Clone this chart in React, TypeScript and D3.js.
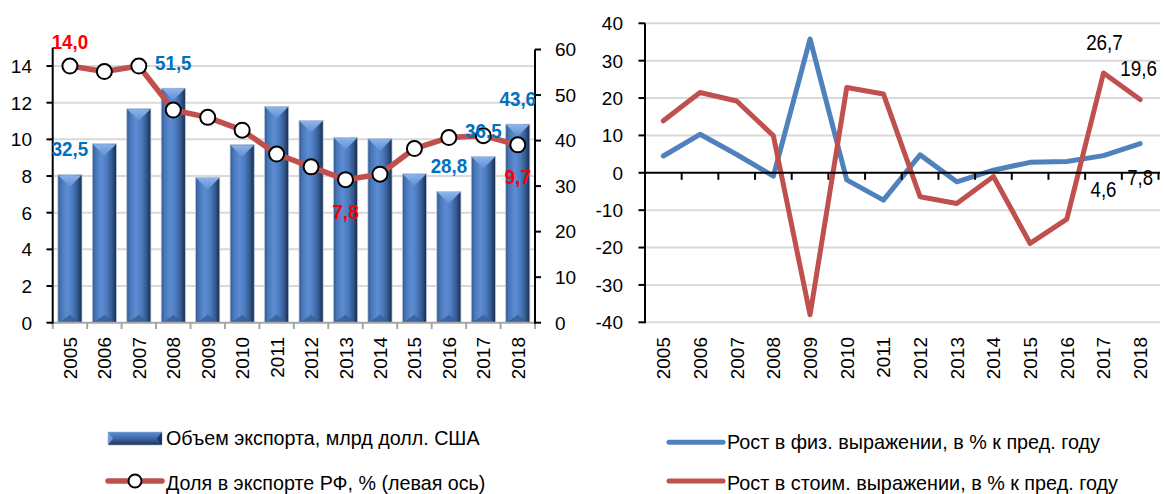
import React from 'react';
import * as d3 from 'd3';

const years = ['2005','2006','2007','2008','2009','2010','2011','2012','2013','2014','2015','2016','2017','2018'];
const exportVolume = [32.5, 39.3, 47.0, 51.5, 31.9, 39.1, 47.5, 44.4, 40.7, 40.4, 32.7, 28.8, 36.5, 43.6];
const shareRF = [14.0, 13.7, 14.0, 11.6, 11.2, 10.5, 9.2, 8.5, 7.8, 8.1, 9.5, 10.1, 10.2, 9.7];
const growthPhys = [4.5, 10.3, 4.9, -0.9, 35.8, -1.9, -7.3, 4.8, -2.4, 0.7, 2.8, 3.0, 4.6, 7.8];
const growthValue = [13.9, 21.5, 19.2, 9.9, -38.0, 22.8, 21.1, -6.4, -8.2, -1.0, -18.9, -12.4, 26.7, 19.6];
const leftTicks = [0, 2, 4, 6, 8, 10, 12, 14];
const rightTicks = [0, 10, 20, 30, 40, 50, 60];
const growthTicks = [-40, -30, -20, -10, 0, 10, 20, 30, 40];
const barLabelIdx = [0, 3, 11, 12, 13];
const shareLabels = [{ i: 0, pos: 'above' }, { i: 8, pos: 'below' }, { i: 13, pos: 'below' }];
const growthValueLabelIdx = [12, 13];
const growthPhysLabelIdx = [12, 13];
const legendLeft = ['Объем экспорта, млрд долл. США', 'Доля в экспорте РФ, % (левая ось)'];
const legendRight = ['Рост в физ. выражении, в % к пред. году', 'Рост в стоим. выражении, в % к пред. году'];

const FONT = '"Liberation Sans", Arial, sans-serif';
const RED = '#C0504D';
const BLUE = '#4F81BD';
const LABEL_BLUE = '#0070C0';
const LABEL_RED = '#FF0000';
const GRID = '#D9D9D9';

const fmt = (v: number) => v.toFixed(1).replace('.', ',');
const boldLen = (s: string) => (s.length >= 4 ? 36.5 : 26.5);
const narrowLen = (s: string) => (s.length >= 4 ? 36.7 : 25.8);

export default function App() {
  // Left chart
  const x1 = d3.scaleBand<string>().domain(years).range([52.7, 535]).paddingInner(0.3).paddingOuter(0.15);
  const yL = d3.scaleLinear().domain([0, 15]).range([322.7, 47.7]);
  const yR = d3.scaleLinear().domain([0, 60]).range([322.7, 49.5]);
  const step1 = (535 - 52.7) / years.length;
  const cx1 = (i: number) => (x1(years[i]) as number) + x1.bandwidth() / 2;

  const shareLine = d3.line<number>().x((_, i) => cx1(i)).y(d => yL(d));

  // Right chart
  const x2 = d3.scalePoint<string>().domain(years).range([645, 1158.5]).padding(0.5);
  const y2 = d3.scaleLinear().domain([-40, 40]).range([322.3, 23.3]);
  const step2 = x2.step();
  const physLine = d3.line<number>().x((_, i) => x2(years[i]) as number).y(d => y2(d));
  const valLine = d3.line<number>().x((_, i) => x2(years[i]) as number).y(d => y2(d));

  const bw = x1.bandwidth();

  return (
    <svg width={1164} height={494} style={{ position: 'absolute', left: 0, top: 0, background: '#fff' }} fontFamily={FONT}>
      <defs>
        <linearGradient id="barGrad" x1="0" x2="1" y1="0" y2="0">
          <stop offset="0" stopColor="#2F5489" />
          <stop offset="0.12" stopColor="#4674B6" />
          <stop offset="0.38" stopColor="#5C8DD3" />
          <stop offset="0.6" stopColor="#4C7CC0" />
          <stop offset="0.82" stopColor="#33598F" />
          <stop offset="1" stopColor="#17294A" />
        </linearGradient>
        <linearGradient id="bevelTop" x1="0" x2="0" y1="0" y2="1">
          <stop offset="0" stopColor="#8DB3EA" />
          <stop offset="1" stopColor="#5F90D6" />
        </linearGradient>
        <linearGradient id="legendBar" x1="0" x2="0" y1="0" y2="1">
          <stop offset="0" stopColor="#5C8DD3" />
          <stop offset="0.5" stopColor="#3E68A8" />
          <stop offset="1" stopColor="#1C3258" />
        </linearGradient>
      </defs>

      {/* LEFT CHART */}
      {leftTicks.filter(t => t > 0).map(t => (
        <line key={'gl' + t} x1={52.7} x2={535} y1={yL(t)} y2={yL(t)} stroke={GRID} strokeWidth={2} />
      ))}
      {exportVolume.map((v, i) => {
        const x0 = x1(years[i]) as number;
        const top = yR(v);
        const bot = yR(0);
        const bev = Math.min(12, (bot - top) / 2);
        return (
          <g key={'bar' + i}>
            <rect x={x0} y={top} width={bw} height={bot - top} fill="url(#barGrad)" stroke="#B8C7DC" strokeWidth={0.8} />
            <polygon points={`${x0 + 0.5},${top + 0.5} ${x0 + bw - 0.5},${top + 0.5} ${x0 + bw / 2},${top + bev}`} fill="url(#bevelTop)" />
            <polygon points={`${x0 + 1},${bot} ${x0 + bw - 1},${bot} ${x0 + bw / 2},${bot - 8}`} fill="#3A5F96" opacity={0.85} />
          </g>
        );
      })}
      {/* x axis left */}
      <line x1={52.7} x2={535} y1={322.7} y2={322.7} stroke="#A6A6A6" strokeWidth={2} />
      {d3.range(years.length + 1).map(k => (
        <line key={'xt1' + k} x1={52.7 + k * step1} x2={52.7 + k * step1} y1={322.7} y2={329} stroke="#A6A6A6" strokeWidth={2} />
      ))}
      {years.map((yr, i) => (
        <text key={'xl1' + yr} transform={`translate(${cx1(i) + 0.5},337) rotate(-90)`} textAnchor="end" dominantBaseline="central" fontSize={19} fill="#000">{yr}</text>
      ))}
      {/* left y axis */}
      <line x1={52.7} x2={52.7} y1={47.7} y2={323.7} stroke="#000" strokeWidth={2} />
      {leftTicks.map(t => (
        <g key={'yl' + t}>
          <line x1={46.5} x2={52.7} y1={yL(t)} y2={yL(t)} stroke="#000" strokeWidth={2} />
          <text x={32} y={yL(t)} dy="0.36em" textAnchor="end" fontSize={19}>{t}</text>
        </g>
      ))}
      {/* right y axis */}
      <line x1={535} x2={535} y1={49.5} y2={323.7} stroke="#000" strokeWidth={2} />
      {rightTicks.map(t => (
        <g key={'yr' + t}>
          <line x1={535} x2={541} y1={yR(t)} y2={yR(t)} stroke="#000" strokeWidth={2} />
          <text x={555} y={yR(t)} dy="0.36em" textAnchor="start" fontSize={19}>{t}</text>
        </g>
      ))}
      {/* share line */}
      <path d={shareLine(shareRF) as string} fill="none" stroke={RED} strokeWidth={5.5} strokeLinejoin="round" />
      {shareRF.map((v, i) => (
        <circle key={'m' + i} cx={cx1(i)} cy={yL(v)} r={7.5} fill="#fff" stroke="#000" strokeWidth={2} />
      ))}
      {barLabelIdx.map(i => {
        const s = fmt(exportVolume[i]);
        return (
          <text key={'bl' + i} x={cx1(i) - boldLen(s) / 2} y={yR(exportVolume[i]) - 18.5} fontSize={19.5} fontWeight="bold" fill={LABEL_BLUE} textLength={boldLen(s)} lengthAdjust="spacingAndGlyphs">{s}</text>
        );
      })}
      {shareLabels.map(({ i, pos }) => {
        const s = fmt(shareRF[i]);
        return (
          <text key={'sl' + i} x={cx1(i) - boldLen(s) / 2} y={yL(shareRF[i]) + (pos === 'above' ? -17.5 : 39)} fontSize={19.5} fontWeight="bold" fill={LABEL_RED} textLength={boldLen(s)} lengthAdjust="spacingAndGlyphs">{s}</text>
        );
      })}

      {/* RIGHT CHART */}
      {growthTicks.filter(t => t !== 0).map(t => (
        <line key={'g2' + t} x1={645} x2={1160} y1={y2(t)} y2={y2(t)} stroke={GRID} strokeWidth={2} />
      ))}
      <path d={physLine(growthPhys) as string} fill="none" stroke={BLUE} strokeWidth={5} strokeLinejoin="round" strokeLinecap="round" />
      <path d={valLine(growthValue) as string} fill="none" stroke={RED} strokeWidth={5} strokeLinejoin="round" strokeLinecap="round" />
      <line x1={645} x2={1160} y1={y2(0)} y2={y2(0)} stroke="#000" strokeWidth={2} />
      {d3.range(years.length + 1).map(k => (
        <line key={'xt2' + k} x1={645 + k * step2} x2={645 + k * step2} y1={y2(0)} y2={y2(0) + 7} stroke="#000" strokeWidth={2} />
      ))}
      <line x1={645} x2={645} y1={23.3} y2={323.3} stroke="#000" strokeWidth={2} />
      {growthTicks.map(t => (
        <g key={'y2' + t}>
          <line x1={638.5} x2={645} y1={y2(t)} y2={y2(t)} stroke="#000" strokeWidth={2} />
          <text x={623} y={y2(t)} dy="0.36em" textAnchor="end" fontSize={19}>{t}</text>
        </g>
      ))}
      {years.map(yr => (
        <text key={'xl2' + yr} transform={`translate(${(x2(yr) as number) + 0.5},337) rotate(-90)`} textAnchor="end" dominantBaseline="central" fontSize={19}>{yr}</text>
      ))}
      {growthValueLabelIdx.map(i => {
        const s = fmt(growthValue[i]);
        return (
          <text key={'gv' + i} x={(x2(years[i]) as number) - narrowLen(s) / 2 - (i === 13 ? 1.5 : -1)} y={y2(growthValue[i]) - 23.5} fontSize={22.5} textLength={narrowLen(s)} lengthAdjust="spacingAndGlyphs">{s}</text>
        );
      })}
      {growthPhysLabelIdx.map(i => {
        const s = fmt(growthPhys[i]);
        return (
          <text key={'gp' + i} x={(x2(years[i]) as number) - narrowLen(s) / 2} y={y2(growthPhys[i]) + 41.2} fontSize={22.5} textLength={narrowLen(s)} lengthAdjust="spacingAndGlyphs">{s}</text>
        );
      })}

      {/* LEGENDS */}
      <g>
        <rect x={108} y={432} width={54} height={13} fill="url(#legendBar)" stroke="#9FB3CF" strokeWidth={0.6} />
        <polygon points="108,432 113,438.5 108,445" fill="#7FA6DE" opacity={0.8} />
        <polygon points="162,432 157,438.5 162,445" fill="#16284A" opacity={0.8} />
        <text x={166} y={445} fontSize={19.7}>{legendLeft[0]}</text>
        <line x1={108} x2={162} y1={481} y2={481} stroke={RED} strokeWidth={5.5} strokeLinecap="round" />
        <circle cx={135} cy={481} r={6.5} fill="#fff" stroke="#000" strokeWidth={2} />
        <text x={166} y={490} fontSize={19.7}>{legendLeft[1]}</text>
      </g>
      <g>
        <line x1={669} x2={723} y1={442.3} y2={442.3} stroke={BLUE} strokeWidth={5} strokeLinecap="round" />
        <text x={727} y={449} fontSize={19.8}>{legendRight[0]}</text>
        <line x1={669} x2={723} y1={481} y2={481} stroke={RED} strokeWidth={5} strokeLinecap="round" />
        <text x={727} y={490} fontSize={19.8}>{legendRight[1]}</text>
      </g>
    </svg>
  );
}
